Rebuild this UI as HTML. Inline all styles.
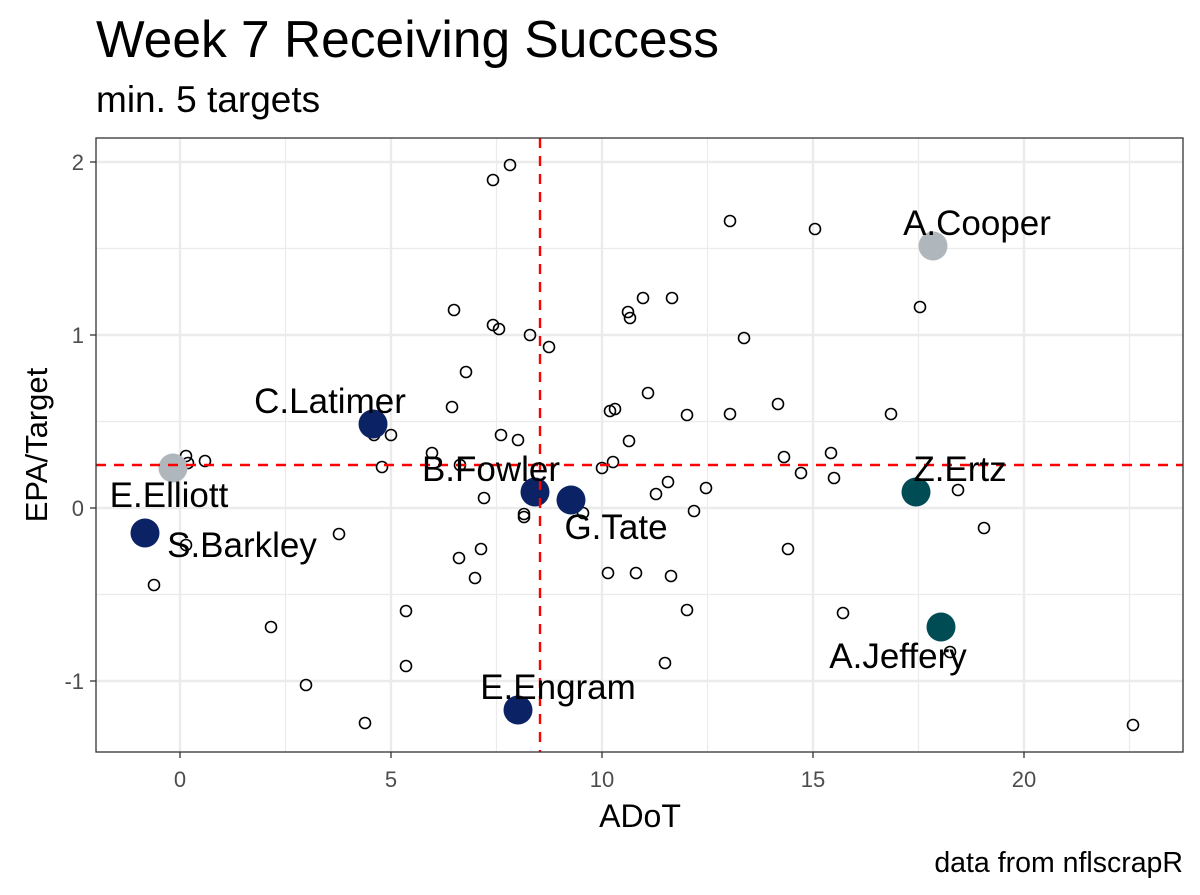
<!DOCTYPE html>
<html><head><meta charset="utf-8"><style>body{margin:0;background:#fff}svg{display:block}</style></head><body>
<svg width="1200" height="895" xmlns="http://www.w3.org/2000/svg" font-family="Liberation Sans, Arial, sans-serif">
<rect width="1200" height="895" fill="#fff"/>
<text x="96" y="57" font-size="51.5">Week 7 Receiving Success</text>
<text x="96" y="112" font-size="37">min. 5 targets</text>
<g stroke="#ebebeb" stroke-width="1.2">
<line x1="285.5" y1="138" x2="285.5" y2="752"/><line x1="496.5" y1="138" x2="496.5" y2="752"/><line x1="707.5" y1="138" x2="707.5" y2="752"/><line x1="918.5" y1="138" x2="918.5" y2="752"/><line x1="1129.5" y1="138" x2="1129.5" y2="752"/>
<line x1="96" y1="248.5" x2="1183" y2="248.5"/><line x1="96" y1="421.5" x2="1183" y2="421.5"/><line x1="96" y1="594.5" x2="1183" y2="594.5"/>
</g>
<g stroke="#ebebeb" stroke-width="2.4">
<line x1="180" y1="138" x2="180" y2="752"/><line x1="391" y1="138" x2="391" y2="752"/><line x1="602" y1="138" x2="602" y2="752"/><line x1="813" y1="138" x2="813" y2="752"/><line x1="1024" y1="138" x2="1024" y2="752"/>
<line x1="96" y1="162" x2="1183" y2="162"/><line x1="96" y1="335" x2="1183" y2="335"/><line x1="96" y1="508" x2="1183" y2="508"/><line x1="96" y1="681" x2="1183" y2="681"/>
</g>
<g fill="none" stroke="#000" stroke-width="1.6">
<circle cx="510" cy="165" r="5.5"/><circle cx="493" cy="180" r="5.5"/><circle cx="730" cy="221" r="5.5"/><circle cx="815" cy="229" r="5.5"/><circle cx="920" cy="307" r="5.5"/><circle cx="454" cy="310" r="5.5"/><circle cx="628" cy="312" r="5.5"/><circle cx="643" cy="298" r="5.5"/><circle cx="630" cy="318" r="5.5"/><circle cx="672" cy="298" r="5.5"/><circle cx="493" cy="325" r="5.5"/><circle cx="499" cy="329" r="5.5"/><circle cx="530" cy="335" r="5.5"/><circle cx="744" cy="338" r="5.5"/><circle cx="549" cy="347" r="5.5"/><circle cx="466" cy="372" r="5.5"/><circle cx="452" cy="407" r="5.5"/><circle cx="610" cy="411" r="5.5"/><circle cx="615" cy="409" r="5.5"/><circle cx="648" cy="393" r="5.5"/><circle cx="687" cy="415" r="5.5"/><circle cx="730" cy="414" r="5.5"/><circle cx="778" cy="404" r="5.5"/><circle cx="891" cy="414" r="5.5"/><circle cx="374" cy="435" r="5.5"/><circle cx="391" cy="435" r="5.5"/><circle cx="501" cy="435" r="5.5"/><circle cx="518" cy="440" r="5.5"/><circle cx="629" cy="441" r="5.5"/><circle cx="432" cy="453" r="5.5"/><circle cx="784" cy="457" r="5.5"/><circle cx="831" cy="453" r="5.5"/><circle cx="186" cy="456" r="5.5"/><circle cx="188" cy="463" r="5.5"/><circle cx="205" cy="461" r="5.5"/><circle cx="382" cy="467" r="5.5"/><circle cx="460" cy="465" r="5.5"/><circle cx="602" cy="468" r="5.5"/><circle cx="613" cy="462" r="5.5"/><circle cx="801" cy="473" r="5.5"/><circle cx="834" cy="478" r="5.5"/><circle cx="668" cy="482" r="5.5"/><circle cx="706" cy="488" r="5.5"/><circle cx="656" cy="494" r="5.5"/><circle cx="958" cy="490" r="5.5"/><circle cx="484" cy="498" r="5.5"/><circle cx="524" cy="514" r="5.5"/><circle cx="524" cy="517" r="5.5"/><circle cx="583" cy="513" r="5.5"/><circle cx="694" cy="511" r="5.5"/><circle cx="984" cy="528" r="5.5"/><circle cx="186" cy="545" r="5.5"/><circle cx="339" cy="534" r="5.5"/><circle cx="481" cy="549" r="5.5"/><circle cx="459" cy="558" r="5.5"/><circle cx="788" cy="549" r="5.5"/><circle cx="608" cy="573" r="5.5"/><circle cx="636" cy="573" r="5.5"/><circle cx="671" cy="576" r="5.5"/><circle cx="475" cy="578" r="5.5"/><circle cx="154" cy="585" r="5.5"/><circle cx="843" cy="613" r="5.5"/><circle cx="406" cy="611" r="5.5"/><circle cx="687" cy="610" r="5.5"/><circle cx="271" cy="627" r="5.5"/><circle cx="406" cy="666" r="5.5"/><circle cx="665" cy="663" r="5.5"/><circle cx="950" cy="652" r="5.5"/><circle cx="306" cy="685" r="5.5"/><circle cx="365" cy="723" r="5.5"/><circle cx="1133" cy="725" r="5.5"/>
</g>
<g>
<circle cx="933" cy="246" r="14.5" fill="#b0b7bc"/><circle cx="373" cy="424" r="14.5" fill="#0b2265"/><circle cx="173" cy="468" r="14.5" fill="#b0b7bc"/><circle cx="145" cy="533" r="14.5" fill="#0b2265"/><circle cx="535" cy="492" r="14.5" fill="#0b2265"/><circle cx="571" cy="500" r="14.5" fill="#0b2265"/><circle cx="916" cy="492" r="14.5" fill="#004c54"/><circle cx="941" cy="627" r="14.5" fill="#004c54"/><circle cx="518" cy="710" r="14.5" fill="#0b2265"/>
</g>
<g stroke="#ff0000" stroke-width="2.4" stroke-dasharray="10,8">
<line x1="540" y1="138" x2="540" y2="752"/><line x1="96" y1="465" x2="1183" y2="465"/>
</g>
<g font-size="35" text-anchor="middle" fill="#000">
<text x="977" y="235">A.Cooper</text><text x="330" y="413">C.Latimer</text><text x="169" y="507">E.Elliott</text><text x="242" y="557">S.Barkley</text><text x="491" y="481">B.Fowler</text><text x="616" y="539">G.Tate</text><text x="960" y="481">Z.Ertz</text><text x="898" y="668">A.Jeffery</text><text x="558" y="699">E.Engram</text>
</g>
<rect x="96" y="138" width="1087" height="614" fill="none" stroke="#333" stroke-width="1.3"/>
<g stroke="#333" stroke-width="1.3">
<line x1="180" y1="752" x2="180" y2="758"/><line x1="391" y1="752" x2="391" y2="758"/><line x1="602" y1="752" x2="602" y2="758"/><line x1="813" y1="752" x2="813" y2="758"/><line x1="1024" y1="752" x2="1024" y2="758"/>
<line x1="90" y1="162" x2="96" y2="162"/><line x1="90" y1="335" x2="96" y2="335"/><line x1="90" y1="508" x2="96" y2="508"/><line x1="90" y1="681" x2="96" y2="681"/>
</g>
<g font-size="22" fill="#4d4d4d" text-anchor="middle">
<text x="180" y="787">0</text><text x="391" y="787">5</text><text x="602" y="787">10</text><text x="813" y="787">15</text><text x="1024" y="787">20</text>
</g>
<g font-size="22" fill="#4d4d4d" text-anchor="end">
<text x="84" y="170">2</text><text x="84" y="343">1</text><text x="84" y="516">0</text><text x="84" y="689">-1</text>
</g>
<text x="640" y="827" font-size="32" text-anchor="middle">ADoT</text>
<text transform="translate(47,445) rotate(-90)" font-size="31" text-anchor="middle">EPA/Target</text>
<text x="1183" y="872" font-size="28.5" text-anchor="end">data from nflscrapR</text>
</svg>
</body></html>
